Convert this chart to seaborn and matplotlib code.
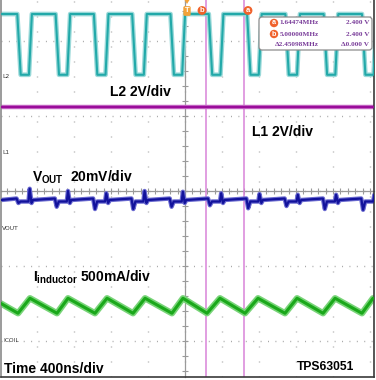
import matplotlib
matplotlib.use("Agg")
import matplotlib.pyplot as plt
import seaborn as sns
from matplotlib.patches import FancyBboxPatch, Polygon
from matplotlib.ticker import MultipleLocator

# switching node edges (ns, 400 ns/div)
sw_fall = [-1813, -1399, -985, -571, -157, 257, 671, 1085, 1499, 1913]
sw_rise = [-1687, -1273, -859, -445, -31, 383, 797, 1211, 1625, 2039]
# trace levels in screen divisions (0 = centre line)
l2_high = 2.36
l2_low = 1.55
l1_level = 1.12
vout_base = -0.12
vout_spike = [0.03, 0.0, -0.03, 0.0, -0.01, -0.03, -0.04, -0.05, -0.05, -0.05]
vout_dip = [-0.16, -0.21, -0.24, -0.24, -0.21, -0.19, -0.23, -0.20, -0.24, -0.25]
il_peak_t = [-2089, -1676, -1265, -843, -432, -22, 378, 789, 1211, 1622, 2032]
il_trough_t = [-1805, -1384, -973, -562, -141, 238, 649, 1081, 1492, 1913]
il_peak = -1.43
il_trough = -1.63
cursor_t = [227, 638]
cursor_rows = [("a", "1.64474MHz", "2.400 V"),
               ("b", "5.00000MHz", "2.400 V"),
               ("", "\u03942.45098MHz", "\u03940.000 V")]

sns.set_theme(style="white")
plt.rcParams['font.family'] = ['Liberation Sans', 'DejaVu Sans']
plt.rcParams['mathtext.fontset'] = 'custom'
plt.rcParams['mathtext.bf'] = 'Liberation Sans:bold'
plt.rcParams['mathtext.rm'] = 'Liberation Sans:bold'
plt.rcParams['lines.scale_dashes'] = False

W, H = 376, 380
fig = plt.figure(figsize=(W / 100, H / 100), dpi=100)
fig.patch.set_facecolor('white')
rect = [1 / W, 3 / H, 373 / W, 377 / H]
xlim = (-1989, 2043)
ylim = (-2.48, 2.547)

# background: dotted graticule and centre cross
axg = fig.add_axes(rect)
axg.set_xlim(xlim)
axg.set_ylim(ylim)
axg.xaxis.set_major_locator(MultipleLocator(400))
axg.xaxis.set_minor_locator(MultipleLocator(80))
axg.yaxis.set_major_locator(MultipleLocator(1))
axg.yaxis.set_minor_locator(MultipleLocator(0.2))
axg.grid(axis='x', color='#a8a8a8', lw=1, linestyle=(0, (0.72, 10.08)))
axg.grid(axis='y', color='#a8a8a8', lw=1, linestyle=(0, (0.72, 4.61)))
for s in ['top', 'right']:
    axg.spines[s].set_visible(False)
for s in ['left', 'bottom']:
    axg.spines[s].set_position(('data', 0))
    axg.spines[s].set_color('#9a9a9a')
    axg.spines[s].set_linewidth(0.9)
axg.tick_params(which='both', direction='inout', length=4, width=0.8,
                color='#9a9a9a', labelbottom=False, labelleft=False,
                bottom=True, left=True)

# traces
ax = fig.add_axes(rect)
ax.patch.set_visible(False)
ax.set_xlim(xlim)
ax.set_ylim(ylim)
ax.set_xticks([])
ax.set_yticks([])
ax.spines['top'].set_visible(False)
ax.spines['left'].set_color('#8a8a8a')
ax.spines['right'].set_color('#3a3a3a')
ax.spines['bottom'].set_color('#3a3a3a')
for s in ['left', 'right', 'bottom']:
    ax.spines[s].set_linewidth(1.2)

for c in cursor_t:
    ax.axvline(c, color='#d884d8', lw=1.1, zorder=1)

l2_t, l2_v = [xlim[0]], [l2_high]
for f, r in zip(sw_fall, sw_rise):
    l2_t += [f, f + 37, r, r + 32]
    l2_v += [l2_high, l2_low, l2_low, l2_high]
l2_t.append(xlim[1] + 60)
l2_v.append(l2_high)

vo_t, vo_v = [xlim[0]], [vout_base]
for f, r, d, s in zip(sw_fall, sw_rise, vout_dip, vout_spike):
    vo_t += [f - 8, f + 12, f + 35, r - 5, r + 8, r + 28, r + 45]
    vo_v += [vout_base + 0.02, d, vout_base - 0.02, vout_base - 0.02, s,
             vout_base - 0.04, vout_base]

il_t, il_v = [], []
for i, p in enumerate(il_peak_t):
    il_t.append(p)
    il_v.append(il_peak)
    if i < len(il_trough_t):
        il_t.append(il_trough_t[i])
        il_v.append(il_trough)

traces = [
    (l2_t, l2_v, '#9ad9d9', '#22a9a9', 3.4, 1.5),
    (list(xlim), [l1_level, l1_level], '#c66ac6', '#9a0c9a', 3.2, 1.6),
    (vo_t, vo_v, '#6a6ad0', '#12129c', 3.2, 1.6),
    (il_t, il_v, '#78d478', '#1aa81a', 4.6, 2.2),
]
for t, v, halo, core, w1, w2 in traces:
    sns.lineplot(x=t, y=v, ax=ax, sort=False, estimator=None,
                 color=halo, lw=w1, zorder=2)
    sns.lineplot(x=t, y=v, ax=ax, sort=False, estimator=None,
                 color=core, lw=w2, zorder=3)


def fx(x):
    return x / W


def fy(y):
    return 1 - y / H


# channel annotations
big = dict(fontsize=10, fontweight='bold', color='black', va='baseline', ha='left')
fig.text(fx(110), fy(96), "L2 2V/div", **big)
fig.text(fx(252), fy(136), "L1 2V/div", **big)
fig.text(fx(32), fy(182), r"V$_{\mathbf{OUT}}$  20mV/div", **big)
fig.text(fx(33), fy(282), r"I$_{\mathbf{inductor}}$ 500mA/div", **big)
fig.text(fx(4), fy(373), "Time 400ns/div", **big)
fig.text(fx(297), fy(370), "TPS63051", fontsize=8.7, fontweight='bold',
         color='black', va='baseline', ha='left')

small = dict(fontsize=4.3, color='#333333', va='center', ha='left',
             family=['DejaVu Sans'])
fig.text(fx(2), fy(77), "L2", **small)
fig.text(fx(2), fy(153), "L1", **small)
fig.text(fx(2), fy(228), "VOUT", **small)
fig.text(fx(3), fy(340), "ICOIL", **small)

# trigger and cursor markers
fig.text(fx(187), fy(11), "T", fontsize=5.5, fontweight='bold', color='white',
         ha='center', va='center',
         bbox=dict(boxstyle='round,pad=0.18,rounding_size=0.2', fc='#f2a23a', ec='none'))
fig.add_artist(Polygon([[1.845, 3.80], [1.895, 3.80], [1.87, 3.76]], closed=True,
                       transform=fig.dpi_scale_trans, fc='#f2a23a', ec='none'))
for lab, x in [("b", 202), ("a", 248)]:
    fig.text(fx(x), fy(10.5), lab, fontsize=5.5, fontweight='bold', color='white',
             ha='center', va='center',
             bbox=dict(boxstyle='circle,pad=0.12', fc='#f0622c', ec='none'))

# cursor readout box
box = FancyBboxPatch((2.59, 3.80 - 0.50), 1.13, 0.33,
                     boxstyle='round,pad=0,rounding_size=0.03',
                     transform=fig.dpi_scale_trans, fc='white', ec='#8c8c8c',
                     lw=0.9, zorder=5)
fig.add_artist(box)
for (lab, freq, volt), y in zip(cursor_rows, [23, 34, 45]):
    if lab:
        fig.text(fx(274), fy(y), lab, fontsize=5.2, fontweight='bold',
                 color='white', ha='center', va='center', zorder=6,
                 bbox=dict(boxstyle='circle,pad=0.1', fc='#f0622c', ec='none'))
    fig.text(fx(319), fy(y), freq, fontsize=5.2, fontweight='bold',
             color='#7b3f9b', ha='right', va='center', zorder=6,
             family=['Liberation Serif'])
    fig.text(fx(369), fy(y), volt, fontsize=5.2, fontweight='bold',
             color='#7b3f9b', ha='right', va='center', zorder=6,
             family=['Liberation Serif'])

fig.savefig("out.png", dpi=100, facecolor='white')
